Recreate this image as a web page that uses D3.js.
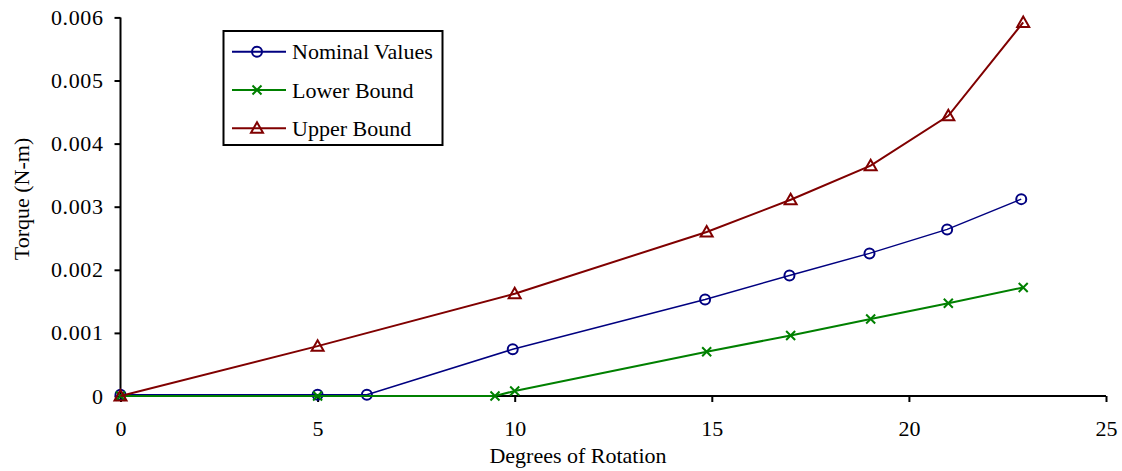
<!DOCTYPE html>
<html><head><meta charset="utf-8">
<script src="https://cdn.jsdelivr.net/npm/d3@7"></script>
<style>body{margin:0;background:#fff}svg{display:block}</style>
</head><body><svg id="c" width="1122" height="471"></svg>
<script>
const seriesNames = ["Nominal Values", "Lower Bound", "Upper Bound"];
const nominalX = [0, 5, 6.25, 9.95, 14.83, 16.97, 19.0, 20.97, 22.85];
const nominalY = [0.00002, 0.00002, 0.00002, 0.00074, 0.00153, 0.00191, 0.00226, 0.00264, 0.00312];
const lowerX = [0, 5, 9.5, 10.0, 14.87, 17.0, 19.03, 21.0, 22.9];
const lowerY = [0, 0, 0, 0.00008, 0.00070, 0.00096, 0.00122, 0.00147, 0.00172];
const upperX = [0, 5, 10.0, 14.87, 17.0, 19.03, 21.0, 22.9];
const upperY = [0, 0.00079, 0.00162, 0.00260, 0.00311, 0.00365, 0.00444, 0.00592];
const xTicks = [0, 5, 10, 15, 20, 25];
const yTicks = [0, 0.001, 0.002, 0.003, 0.004, 0.005, 0.006];
const yTickLabels = ["0", "0.001", "0.002", "0.003", "0.004", "0.005", "0.006"];
const xTitle = "Degrees of Rotation";
const yTitle = "Torque (N-m)";

const colors = ["#000080", "#008000", "#800000"];
const markers = ["circle", "x", "triangle"];
const FONT = "'Liberation Serif', 'Times New Roman', Times, serif";

const svg = d3.select("#c");
const x = d3.scaleLinear().domain([0, 25]).range([120.5, 1106]);
const y = d3.scaleLinear().domain([0, 0.006]).range([396, 17.4]);
const FS = 22;

// axes
const xAxis = svg.append("g").attr("transform", `translate(0,${y(0)})`)
  .call(d3.axisBottom(x).tickValues(xTicks).tickSize(6).tickPadding(18).tickFormat(d3.format("d")));
const yAxis = svg.append("g").attr("transform", `translate(${x(0)},0)`)
  .call(d3.axisLeft(y).tickValues(yTicks).tickSize(6).tickPadding(11).tickFormat((d, i) => yTickLabels[i]));
[xAxis, yAxis].forEach(a => {
  a.attr("font-family", FONT).attr("font-size", FS);
  a.selectAll("path.domain").attr("stroke", "#000").attr("stroke-width", 2);
  a.selectAll(".tick line").attr("stroke", "#000").attr("stroke-width", 2);
  a.selectAll(".tick text").attr("fill", "#000");
});
yAxis.selectAll(".tick text").attr("letter-spacing", "0.6px");
xAxis.selectAll("path.domain").attr("d", `M${x(0)},0H${x(25)}`);
yAxis.selectAll("path.domain").attr("d", `M0,${y(0)}V${y(0.006)}`);

svg.append("text").attr("x", 578).attr("y", 463).attr("text-anchor", "middle")
  .attr("font-family", FONT).attr("font-size", FS).text(xTitle);
svg.append("text").attr("transform", `translate(29,199) rotate(-90)`).attr("text-anchor", "middle")
  .attr("font-family", FONT).attr("font-size", FS).text(yTitle);

function drawMarker(g, type, cx, cy, color) {
  if (type === "circle") {
    g.append("circle").attr("cx", cx).attr("cy", cy).attr("r", 5).attr("fill", "none").attr("stroke", color).attr("stroke-width", 2);
  } else if (type === "x") {
    const s = 4.5;
    g.append("path").attr("d", `M${cx-s},${cy-s}L${cx+s},${cy+s}M${cx-s},${cy+s}L${cx+s},${cy-s}`).attr("stroke", color).attr("stroke-width", 2).attr("fill", "none");
  } else {
    const s = 6;
    g.append("path").attr("d", `M${cx},${cy-s}L${cx+s},${cy+s*0.75}L${cx-s},${cy+s*0.75}Z`).attr("fill", "none").attr("stroke", color).attr("stroke-width", 2);
  }
}

const data = [
  {xs: nominalX, ys: nominalY},
  {xs: lowerX, ys: lowerY},
  {xs: upperX, ys: upperY}
];
const line = d3.line().x(d => x(d[0])).y(d => y(d[1]));
data.forEach((s, i) => {
  const pts = s.xs.map((v, j) => [v, s.ys[j]]);
  const g = svg.append("g");
  g.append("path").attr("d", line(pts)).attr("fill", "none").attr("stroke", colors[i]).attr("stroke-width", i === 0 ? 1.5 : 2);
  pts.forEach(p => drawMarker(g, markers[i], x(p[0]), y(p[1]), colors[i]));
});

// legend
const lg = svg.append("g");
lg.append("rect").attr("x", 223.5).attr("y", 31).attr("width", 219).attr("height", 114).attr("fill", "#fff").attr("stroke", "#000").attr("stroke-width", 2);
seriesNames.forEach((n, i) => {
  const ly = 51.7 + i * 38.3;
  lg.append("line").attr("x1", 232).attr("x2", 286).attr("y1", ly).attr("y2", ly).attr("stroke", colors[i]).attr("stroke-width", 2);
  drawMarker(lg, markers[i], 257, ly, colors[i]);
  lg.append("text").attr("x", 292).attr("y", ly).attr("dy", "0.35em")
    .attr("font-family", FONT).attr("font-size", FS).text(n);
});
</script></body></html>
